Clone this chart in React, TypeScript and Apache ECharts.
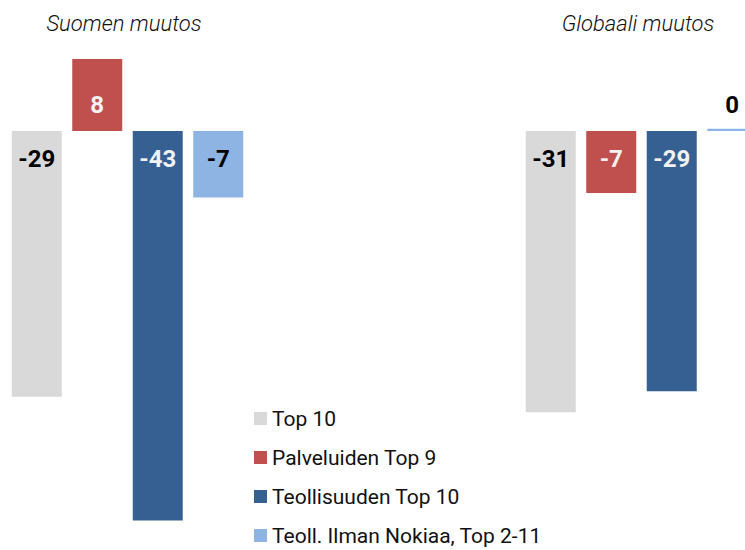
import React, { useEffect, useRef } from "react";
import * as echarts from "echarts";

const categories = ["Suomen muutos", "", "Globaali muutos"];
const seriesNames = [
  "Top 10",
  "Palveluiden Top 9",
  "Teollisuuden Top 10",
  "Teoll. Ilman Nokiaa, Top 2-11",
];
const top10 = [-29.2, null, -30.9];
const palvelut = [7.9, null, -6.8];
const teollisuus = [-42.8, null, -28.6];
const ilmanNokiaa = [-7.3, null, 0.25];

const colors = ["#D9D9D9", "#C0504D", "#366092", "#8DB4E2"];
const labelColors = ["#000000", "#F2F2F2", "#F2F2F2", "#000000"];
const FONT = "Roboto, 'Noto Sans', sans-serif";

export default function App() {
  const ref = useRef<HTMLDivElement>(null);
  useEffect(() => {
    if (!ref.current) return;
    const chart = echarts.init(ref.current, null, { renderer: "svg" });
    const all = [top10, palvelut, teollisuus, ilmanNokiaa];
    const series = all.map((arr, si) => ({
      name: seriesNames[si],
      type: "bar",
      barWidth: 50,
      barGap: "21%",
      itemStyle: { color: colors[si] },
      data: arr.map((v) => {
        if (v === null) return "-";
        let position = "insideTop";
        let distance = 16;
        if (v > 0 && v < 1) {
          position = "top";
          distance = 12;
        } else if (v > 0) {
          position = "insideBottom";
          distance = 14;
        }
        return {
          value: v,
          label: {
            show: true,
            position,
            distance,
            color: v > 0 && v < 1 ? "#000000" : labelColors[si],
            fontSize: 24,
            fontWeight: "bold",
            fontFamily: FONT,
            formatter: (p: any) => String(Math.round(p.value)),
          },
        };
      }),
    }));
    chart.setOption({
      animation: false,
      grid: {
        left: -1,
        width: 771,
        top: 40,
        height: 500.5,
        outerBoundsMode: "none",
        containLabel: false,
      },
      xAxis: {
        type: "category",
        data: categories,
        show: false,
      },
      yAxis: {
        type: "value",
        min: -45,
        max: 10,
        show: false,
        splitLine: { show: false },
      },
      legend: {
        orient: "vertical",
        left: 254,
        top: 408,
        padding: 0,
        itemWidth: 13,
        itemHeight: 13,
        itemGap: 18,
        icon: "rect",
        data: seriesNames,
        textStyle: {
          fontSize: 21,
          lineHeight: 21,
          fontFamily: FONT,
          color: "#111111",
        },
      },
      graphic: [
        {
          type: "text",
          x: 124,
          y: 23,
          style: {
            text: categories[0],
            textAlign: "center",
            textVerticalAlign: "middle",
            fontSize: 22,
            fontStyle: "italic",
            fontWeight: 300,
            fontFamily: FONT,
            fill: "#111111",
          },
        },
        {
          type: "text",
          x: 638,
          y: 23,
          style: {
            text: categories[2],
            textAlign: "center",
            textVerticalAlign: "middle",
            fontSize: 22,
            fontStyle: "italic",
            fontWeight: 300,
            fontFamily: FONT,
            fill: "#111111",
          },
        },
      ],
      series,
    });
    return () => chart.dispose();
  }, []);
  return (
    <div
      ref={ref}
      style={{ position: "absolute", left: 0, top: 0, width: 745, height: 550 }}
    />
  );
}
